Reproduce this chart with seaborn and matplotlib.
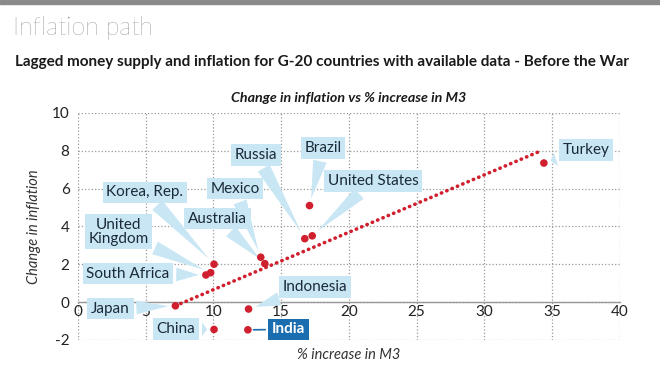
import matplotlib
matplotlib.use("Agg")
import matplotlib.pyplot as plt
import seaborn as sns
from matplotlib.patches import Rectangle

# data
countries = ["Japan", "South Africa", "United\nKingdom", "Korea, Rep.", "China", "India",
             "Indonesia", "Mexico", "Australia", "Russia", "United States", "Brazil", "Turkey"]
m3_increase = [7.2, 9.45, 9.8, 10.05, 10.05, 12.55, 12.6, 13.5, 13.8, 16.75, 17.3, 17.1, 34.4]
infl_change = [-0.2, 1.43, 1.55, 2.0, -1.45, -1.47, -0.37, 2.37, 2.03, 3.35, 3.5, 5.1, 7.35]

# where the callout boxes sit
label_x = [2.4, 3.7, 3.0, 4.95, 7.25, 15.55, 17.5, 11.6, 10.3, 13.15, 21.8, 18.1, 37.5]
label_y = [-0.35, 1.5, 3.72, 5.8, -1.43, -1.45, 0.78, 6.0, 4.41, 7.78, 6.4, 8.16, 8.04]

# trend line endpoints
trend_x = [7.2, 34.2]
trend_y = [-0.2, 8.0]

x_ticks = [0, 5, 10, 15, 20, 25, 30, 35, 40]
y_ticks = [-2, 0, 2, 4, 6, 8, 10]

sns.set_theme(style="white")
plt.rcParams['font.family'] = ['Lato', 'DejaVu Sans']

red = "#d01f2e"
callout = "#c8e6f4"
navy = "#1b2a3a"
india_blue = "#1a6dae"

fig = plt.figure(figsize=(6.6, 3.69), dpi=100)
ax = fig.add_axes([0.118, 0.079, 0.821, 0.615])

# top grey bar
fig.patches.append(Rectangle((0, 0.988), 1, 0.012, transform=fig.transFigure,
                             color="#8a8a8a", zorder=0))

fig.text(0.02, 0.925, "Inflation path", fontsize=18, fontweight="light",
         color="#555555", va="center", ha="left")
fig.text(0.022, 0.832, "Lagged money supply and inflation for G-20 countries with available data - Before the War",
         fontsize=11, fontweight="bold", color="#1a1a1a", va="center", ha="left")
ax.set_title("Change in inflation vs % increase in M3", fontsize=10.3, fontweight="bold",
             fontstyle="italic", color="#1a1a1a", pad=8)

# trend line
sns.lineplot(x=trend_x, y=trend_y, ax=ax, color=red, linewidth=2.6,
             linestyle=(0, (0.1, 1.5)), dash_capstyle="round", zorder=3)

# points
sns.scatterplot(x=m3_increase, y=infl_change, ax=ax, color=red, s=30,
                edgecolor="none", zorder=5)

# callouts
for name, px, py, lx, ly in zip(countries, m3_increase, infl_change, label_x, label_y):
    if name == "India":
        ax.annotate(name, xy=(px, py), xytext=(lx, ly), ha="center", va="center",
                    fontsize=11, fontweight="bold", color="white",
                    bbox=dict(boxstyle="square,pad=0.25", fc=india_blue, ec="none"),
                    arrowprops=dict(arrowstyle="-", color=india_blue, lw=1.2, shrinkB=4),
                    annotation_clip=False, zorder=4)
    else:
        ax.annotate(name, xy=(px, py), xytext=(lx, ly), ha="center", va="center",
                    fontsize=11, color=navy, linespacing=1.0,
                    bbox=dict(boxstyle="square,pad=0.25", fc=callout, ec="none"),
                    arrowprops=dict(arrowstyle="wedge,tail_width=0.9,shrink_factor=0.5",
                                    fc=callout, ec="none", shrinkB=5),
                    annotation_clip=False, zorder=4)

ax.set_xlim(0, 40)
ax.set_ylim(-2, 10)
ax.set_xticks(x_ticks)
ax.set_yticks(y_ticks)
ax.set_yticklabels([str(v) for v in y_ticks])
ax.tick_params(axis="both", length=0, labelsize=11, labelcolor="#222222")
ax.tick_params(axis="x", pad=2)
ax.tick_params(axis="y", pad=6)

ax.grid(True, linestyle=":", color="#999999", linewidth=0.9)
for gl in ax.xaxis.get_gridlines():
    if gl.get_xdata()[0] in (0, 40):
        gl.set_visible(False)

for side in ["top", "right", "left"]:
    ax.spines[side].set_visible(False)
ax.spines["bottom"].set_position(("data", 0))
ax.spines["bottom"].set_color("#999999")
ax.spines["bottom"].set_linewidth(1.0)

ax.set_ylabel("Change in inflation", fontsize=10.5, fontstyle="italic", color="#333333", labelpad=8)
fig.text(0.528, 0.038, "% increase in M3", fontsize=10.5, fontstyle="italic",
         color="#333333", ha="center", va="center")
ax.set_xlabel("")

fig.savefig("out.png", dpi=100)
